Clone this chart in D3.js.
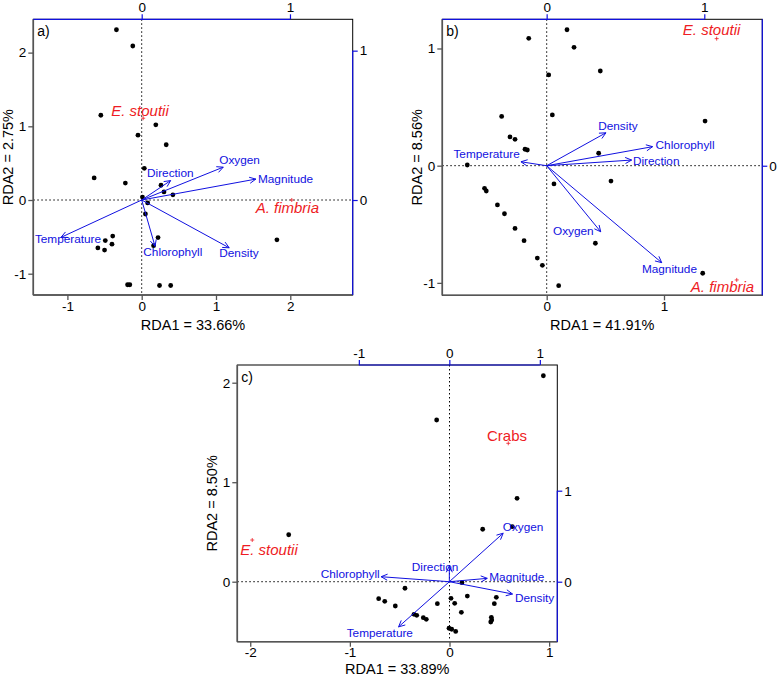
<!DOCTYPE html>
<html><head><meta charset="utf-8">
<script src="https://cdn.jsdelivr.net/npm/d3@7"></script>
<style>body{margin:0;background:#fff}svg{display:block}text{font-family:"Liberation Sans",Arial,sans-serif}</style>
</head><body><svg id="c" width="778" height="677"></svg>
<script>
// ---------- DATA ----------
// Panel a
const sitesA = [[-0.34,2.31],[-0.12,2.09],[-0.55,1.15],[0.19,1.02],[-0.05,0.88],[0.33,0.75],[-0.64,0.30],[-0.22,0.23],[0.035,0.43],[0.26,0.20],[0.30,0.11],[0.42,0.07],[0.01,0.04],[0.08,-0.04],[0.05,-0.19],[0.22,-0.51],[0.16,-0.62],[-0.39,-0.49],[-0.49,-0.55],[-0.40,-0.60],[-0.59,-0.65],[-0.50,-0.68],[-0.19,-1.15],[-0.16,-1.15],[0.24,-1.16],[0.39,-1.16],[1.82,-0.54]];
const envNamesA = ["Temperature","Direction","Chlorophyll","Oxygen","Magnitude","Density"];
const envA = [[-0.544,-0.25],[0.195,0.13],[0.09,-0.31],[0.55,0.22],[0.77,0.14],[0.59,-0.32]];
const envLabA = [[-0.497,-0.26],[0.193,0.18],[0.21,-0.35],[0.66,0.27],[0.97,0.14],[0.656,-0.357]];
const spNamesA = ["E. stoutii","A. fimbria"];
const spA = [[0.02,1.11],[2.02,0.0]];
const spLabA = [[-0.023,1.21],[1.96,-0.105]];
// Panel b
const sitesB = [[-0.153,1.087],[0.173,1.16],[0.233,1.01],[0.017,0.774],[0.048,0.433],[-0.384,0.42],[-0.313,0.245],[-0.27,0.225],[-0.185,0.14],[-0.165,0.134],[0.457,0.808],[1.35,0.381],[0.443,0.106],[-0.677,0.006],[-0.53,-0.193],[-0.515,-0.216],[-0.42,-0.335],[-0.36,-0.41],[-0.27,-0.535],[-0.193,-0.64],[-0.08,-0.788],[-0.037,-0.85],[0.062,-0.156],[0.102,-1.024],[0.548,-0.131],[0.415,-0.662],[1.33,-0.918]];
const envNamesB = ["Temperature","Density","Chlorophyll","Direction","Oxygen","Magnitude"];
const envB = [[-0.163,0.025],[0.376,0.209],[0.672,0.121],[0.539,0.036],[0.343,-0.419],[0.73,-0.615]];
const envLabB = [[-0.381,0.074],[0.452,0.254],[0.878,0.129],[0.695,0.032],[0.169,-0.414],[0.779,-0.655]];
const spNamesB = ["E. stoutii","A. fimbria"];
const spB = [[1.449,1.084],[1.62,-0.975]];
const spLabB = [[1.406,1.166],[1.499,-1.035]];
// Panel c
const sitesC = [[0.942,2.07],[-0.129,1.625],[0.678,0.838],[-1.614,0.472],[-0.447,-0.066],[-0.711,-0.171],[-0.65,-0.197],[-0.544,-0.244],[0.333,0.527],[0.63,0.553],[0.125,-0.01],[-0.356,-0.328],[-0.329,-0.338],[-0.263,-0.362],[-0.233,-0.378],[-0.122,-0.221],[0.015,-0.167],[0.052,-0.217],[0.179,-0.144],[0.119,-0.308],[0.47,-0.157],[0.45,-0.221],[0.42,-0.358],[0.424,-0.385],[0.414,-0.405],[-0.005,-0.468],[0.022,-0.478],[0.062,-0.50]];
const envNamesC = ["Oxygen","Magnitude","Density","Direction","Chlorophyll","Temperature"];
const envC = [[0.595,0.533],[0.419,0.037],[0.698,-0.135],[0.0,0.173],[-0.754,0.055],[-0.561,-0.496]];
const envLabC = [[0.815,0.606],[0.746,0.055],[0.942,-0.176],[-0.158,0.165],[-1.095,0.081],[-0.768,-0.568]];
const spNamesC = ["Crabs","E. stoutii"];
const spItalicC = [false,true];
const spC = [[0.59,1.391],[-1.98,0.419]];
const spLabC = [[0.577,1.474],[-1.812,0.319]];

// tick labels
const ticksA = {bottom:[-1,0,1,2], left:[-1,0,1,2], top:[0,1], right:[0,1]};
const ticksB = {bottom:[0,1], left:[-1,0,1], top:[0,1], right:[0]};
const ticksC = {bottom:[-2,-1,0,1], left:[0,1,2], top:[-1,0,1], right:[0,1]};
const titles = {a:["RDA1 = 33.66%","RDA2 = 2.75%"], b:["RDA1 = 41.91%","RDA2 = 8.56%"], c:["RDA1 = 33.89%","RDA2 = 8.50%"]};

// ---------- LAYOUT ----------
const panels = [
 {tag:"a)", box:[33.3,352.7,19.3,295], xd:[-1.459,2.84], yd:[-1.289,2.452], x2d:[-0.731,1.423], y2d:[-0.636,1.21],
  sites:sitesA, envN:envNamesA, env:envA, envL:envLabA, spN:spNamesA, sp:spA, spL:spLabA, spIt:[true,true], ticks:ticksA, t:titles.a},
 {tag:"b)", box:[442.3,762.3,19.3,295.3], xd:[-0.89,1.838], yd:[-1.106,1.249], x2d:[-0.662,1.368], y2d:[-0.822,0.929],
  sites:sitesB, envN:envNamesB, env:envB, envL:envLabB, spN:spNamesB, sp:spB, spL:spLabB, spIt:[true,true], ticks:ticksB, t:titles.b},
 {tag:"c)", box:[237.3,557.3,365,641.7], xd:[-2.13,1.082], yd:[-0.603,2.178], x2d:[-2.343,1.193], y2d:[-0.659,2.381],
  sites:sitesC, envN:envNamesC, env:envC, envL:envLabC, spN:spNamesC, sp:spC, spL:spLabC, spIt:spItalicC, ticks:ticksC, t:titles.c}
];

const BLUE = "#1010e0", RED = "#ee1c24", AXG = "#555";
const svg = d3.select("#c");

panels.forEach(p => {
  const [L,R,T,B] = p.box;
  const x = d3.scaleLinear().domain(p.xd).range([L,R]);
  const y = d3.scaleLinear().domain(p.yd).range([B,T]);
  const x2 = d3.scaleLinear().domain(p.x2d).range([L,R]);
  const y2 = d3.scaleLinear().domain(p.y2d).range([B,T]);
  const g = svg.append("g");

  // dotted zero lines
  g.append("line").attr("x1",L).attr("x2",R).attr("y1",y(0)).attr("y2",y(0))
    .attr("stroke","#000").attr("stroke-width",1).attr("stroke-dasharray","1.5,2.5");
  g.append("line").attr("x1",x(0)).attr("x2",x(0)).attr("y1",T).attr("y2",B)
    .attr("stroke","#000").attr("stroke-width",1).attr("stroke-dasharray","1.5,2.5");

  // box
  g.append("rect").attr("x",L).attr("y",T).attr("width",R-L).attr("height",B-T)
    .attr("fill","none").attr("stroke","#000").attr("stroke-width",1);

  const fmt = d => d<0 ? "-"+Math.abs(d) : String(d);
  const styleText = sel => sel.attr("font-size",13.5).attr("fill","#000").attr("font-family","Liberation Sans, Arial, sans-serif").text(fmt);

  // bottom axis
  const ga = g.append("g").attr("transform",`translate(0,${B})`)
    .call(d3.axisBottom(x).tickValues(p.ticks.bottom).tickSize(5).tickPadding(1));
  ga.select(".domain").attr("stroke",AXG).attr("stroke-width",1.6).attr("d",`M${L},0H${R}`);
  ga.selectAll(".tick line").attr("stroke",AXG).attr("stroke-width",1.3);
  styleText(ga.selectAll("text"));
  // left axis
  const gl = g.append("g").attr("transform",`translate(${L},0)`)
    .call(d3.axisLeft(y).tickValues(p.ticks.left).tickSize(5).tickPadding(2));
  gl.select(".domain").attr("stroke",AXG).attr("stroke-width",1.6).attr("d",`M0,${T}V${B}`);
  gl.selectAll(".tick line").attr("stroke",AXG).attr("stroke-width",1.3);
  styleText(gl.selectAll("text"));

  // top axis (biplot scale, blue)
  const gt = g.append("g").attr("transform",`translate(0,${T})`)
    .call(d3.axisTop(x2).tickValues(p.ticks.top).tickSize(5).tickPadding(2));
  const tl = Math.max(L, x2(-1)), tr = Math.min(R, x2(1));
  gt.select(".domain").attr("stroke",BLUE).attr("stroke-width",1.2).attr("d",`M${tl},0H${tr}`);
  gt.selectAll(".tick line").attr("stroke",BLUE).attr("stroke-width",1.2);
  styleText(gt.selectAll("text"));
  // right axis
  const gr = g.append("g").attr("transform",`translate(${R},0)`)
    .call(d3.axisRight(y2).tickValues(p.ticks.right).tickSize(5).tickPadding(2));
  const rt = Math.max(T, y2(1)), rb = Math.min(B, y2(-1));
  gr.select(".domain").attr("stroke",BLUE).attr("stroke-width",1.2).attr("d",`M0,${rt}V${rb}`);
  gr.selectAll(".tick line").attr("stroke",BLUE).attr("stroke-width",1.2);
  styleText(gr.selectAll("text"));

  // axis titles
  g.append("text").attr("x",(L+R)/2).attr("y",Math.min(B+30,669.3)).attr("text-anchor","middle").attr("dominant-baseline","central")
    .attr("font-size",14.5).text(p.t[0]);
  g.append("text").attr("transform",`translate(${L-25},${(T+B)/2}) rotate(-90)`).attr("text-anchor","middle")
    .attr("dominant-baseline","central").attr("font-size",14.5).text(p.t[1]);

  // panel tag
  g.append("text").attr("x",L+4).attr("y",T+12).attr("dominant-baseline","central").attr("font-size",14).text(p.tag);

  // sites
  g.selectAll("circle.site").data(p.sites).enter().append("circle").attr("class","site")
    .attr("cx",d=>x(d[0])).attr("cy",d=>y(d[1])).attr("r",2.4).attr("fill","#000");

  // env arrows
  const ox = x2(0), oy = y2(0);
  p.env.forEach((d,i) => {
    const ex = x2(d[0]), ey = y2(d[1]);
    const a = Math.atan2(ey-oy, ex-ox), h = 7, w = Math.PI/7;
    g.append("line").attr("x1",ox).attr("y1",oy).attr("x2",ex).attr("y2",ey).attr("stroke",BLUE).attr("stroke-width",1);
    g.append("path").attr("d",`M${ex-h*Math.cos(a-w)},${ey-h*Math.sin(a-w)}L${ex},${ey}L${ex-h*Math.cos(a+w)},${ey-h*Math.sin(a+w)}`)
      .attr("fill","none").attr("stroke",BLUE).attr("stroke-width",1);
    g.append("text").attr("x",x2(p.envL[i][0])).attr("y",y2(p.envL[i][1])).attr("text-anchor","middle")
      .attr("dominant-baseline","central").attr("font-size",11.8).attr("fill",BLUE).text(p.envN[i]);
  });

  // species
  p.sp.forEach((d,i) => {
    const sx = x(d[0]), sy = y(d[1]);
    g.append("path").attr("d",`M${sx-2},${sy}H${sx+2}M${sx},${sy-2}V${sy+2}`).attr("stroke",RED).attr("stroke-width",0.8);
    g.append("text").attr("x",x(p.spL[i][0])).attr("y",y(p.spL[i][1])).attr("text-anchor","middle")
      .attr("dominant-baseline","central").attr("font-size",15).attr("fill",RED)
      .attr("font-style",p.spIt[i]?"italic":"normal").text(p.spN[i]);
  });
});
</script></body></html>
